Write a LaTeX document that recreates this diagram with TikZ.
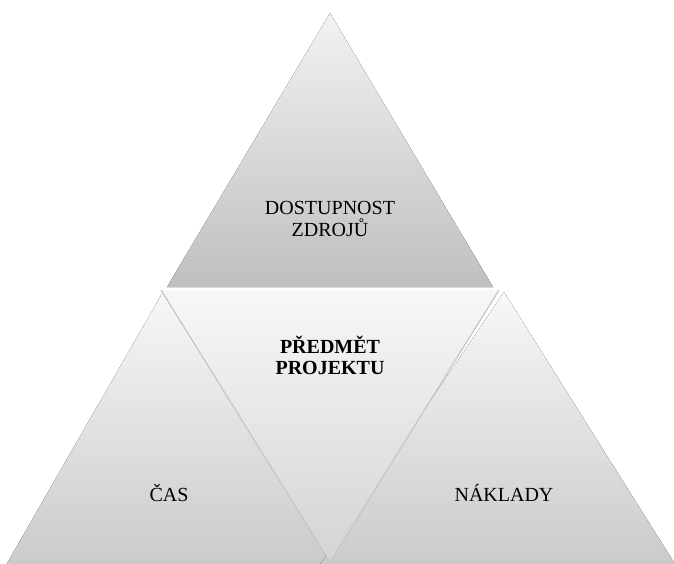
\documentclass[tikz,border=0pt]{standalone}
\usepackage{fontspec}
\setmainfont{Liberation Serif}

\begin{document}
\begin{tikzpicture}[x=1pt,y=-1pt,
  label/.style={align=center,font=\fontsize{20}{22}\selectfont},
  side/.style={shading=axis,top color=white!97!black,bottom color=black!21}]
\useasboundingbox (0,0) rectangle (674,563);
\clip (0,0) rectangle (674,563);

 \fill[shading=axis,top color=white!95!black,bottom color=black!25](330,13)--(167,287)--(493,287)--cycle;
 \fill[side](163,292)--(2,572)--(345,572)--cycle;
 \fill[side](504,292)--(315,572)--(680,572)--cycle;
 \fill[shading=axis,top color=white!97!black,bottom color=black!17](161,290)--(499,290)--(330,562)--cycle;
 \draw[black!22,line width=1.2pt](161,290)--(330,562)--(499,290);

 \node[label] (zdroje) at (330,219) {DOSTUPNOST\\ZDROJŮ};
 \node[label,font=\fontsize{20}{21}\selectfont\bfseries] (predmet) at (330,355) {PŘEDMĚT\\PROJEKTU};
 \node[label] (cas) at (169,493) {ČAS};
 \node[label] (naklady) at (504,493) {NÁKLADY};

\end{tikzpicture}
\end{document}
